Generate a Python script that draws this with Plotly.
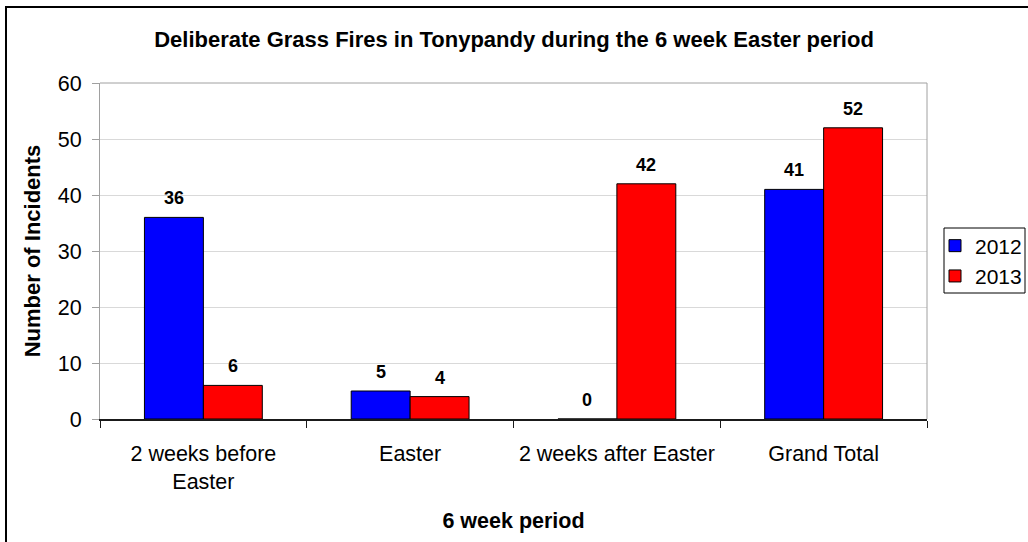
import plotly.graph_objects as go

categories = ["2 weeks before<br>Easter", "Easter", "2 weeks after Easter", "Grand Total"]
series_names = ["2012", "2013"]
values_2012 = [36, 5, 0, 41]
values_2013 = [6, 4, 42, 52]
y_ticks = [0, 10, 20, 30, 40, 50, 60]

FONT = "Liberation Sans, Arial, sans-serif"
W, H = 1028, 542
ML, MR, MT, MB = 100, 101, 83, 123
BARGAP = 0.43
plot_w = W - ML - MR
plot_h = H - MT - MB
bar_px = plot_w / len(categories) * (1 - BARGAP) / 2


def px_x(p):
    return (p - ML) / plot_w


def px_y(p):
    return (MT + plot_h - p) / plot_h


fig = go.Figure()
annotations = []
for i, (name, vals, color) in enumerate([(series_names[0], values_2012, "#0000FF"),
                                         (series_names[1], values_2013, "#FF0000")]):
    fig.add_trace(go.Bar(
        x=categories, y=vals, name=name,
        marker=dict(color=color, line=dict(color="#000000", width=1)),
    ))
    shift = (i - 0.5) * bar_px
    for c, v in zip(categories, vals):
        annotations.append(dict(
            x=c, y=v, xref="x", yref="y", text=f"<b>{v}</b>", showarrow=False,
            xanchor="center", yanchor="bottom", xshift=shift, yshift=7,
            font=dict(family=FONT, size=18, color="#000000"),
        ))

fig.update_layout(
    width=W, height=H,
    margin=dict(l=ML, r=MR, t=MT, b=MB, autoexpand=False),
    paper_bgcolor="white", plot_bgcolor="white",
    barmode="group", bargap=BARGAP, bargroupgap=0,
    font=dict(family=FONT, size=21.5, color="#000000"),
    title=dict(text="<b>Deliberate Grass Fires in Tonypandy during the 6 week Easter period</b>",
               x=0.5, xanchor="center", y=1 - 39 / H, yanchor="middle", yref="container",
               font=dict(family=FONT, size=22, color="#000000")),
    showlegend=True,
    legend=dict(x=px_x(935), xanchor="left", y=px_y(261), yanchor="middle",
                borderwidth=0, bgcolor="rgba(0,0,0,0)",
                font=dict(family=FONT, size=21), traceorder="normal",
                itemwidth=30, tracegroupgap=4),
    xaxis=dict(
        automargin=False, tickangle=0,
        showline=True, linecolor="#1a1a1a", linewidth=2,
        ticks="outside", tickson="boundaries", ticklen=7, tickcolor="#1a1a1a", tickwidth=1,
        ticklabelstandoff=14,
        showgrid=False, tickfont=dict(family=FONT, size=21.5),
        title=dict(text="<b>6 week period</b>", font=dict(family=FONT, size=21.5), standoff=20),
    ),
    yaxis=dict(
        automargin=False,
        range=[0, 60], tickvals=y_ticks, showline=True, linecolor="#A0A0A0", linewidth=1,
        ticks="outside", ticklen=7, tickcolor="#A0A0A0", ticklabelstandoff=6,
        showgrid=True, gridcolor="#D9D9D9", gridwidth=1, zeroline=False,
        tickfont=dict(family=FONT, size=21.5),
        title=dict(text="<b>Number of Incidents</b>", font=dict(family=FONT, size=22), standoff=11),
    ),
    annotations=annotations,
    shapes=[
        dict(type="line", xref="paper", yref="paper", x0=0, x1=1, y0=1, y1=1,
             line=dict(color="#A0A0A0", width=1), layer="above"),
        dict(type="line", xref="paper", yref="paper", x0=1, x1=1, y0=0, y1=1,
             line=dict(color="#A0A0A0", width=1), layer="above"),
        dict(type="rect", xref="paper", yref="paper",
             x0=px_x(6), x1=1.5, y0=-2, y1=px_y(7),
             line=dict(color="#000000", width=2), fillcolor="rgba(0,0,0,0)", layer="below"),
        dict(type="rect", xref="paper", yref="paper",
             x0=px_x(944), x1=px_x(1025), y0=px_y(293), y1=px_y(228),
             line=dict(color="#000000", width=1), fillcolor="white", layer="below"),
    ],
)

fig.write_html("out.html",
               config={"displayModeBar": False},
               post_script="document.body.style.margin='0';document.body.style.overflow='hidden';")
